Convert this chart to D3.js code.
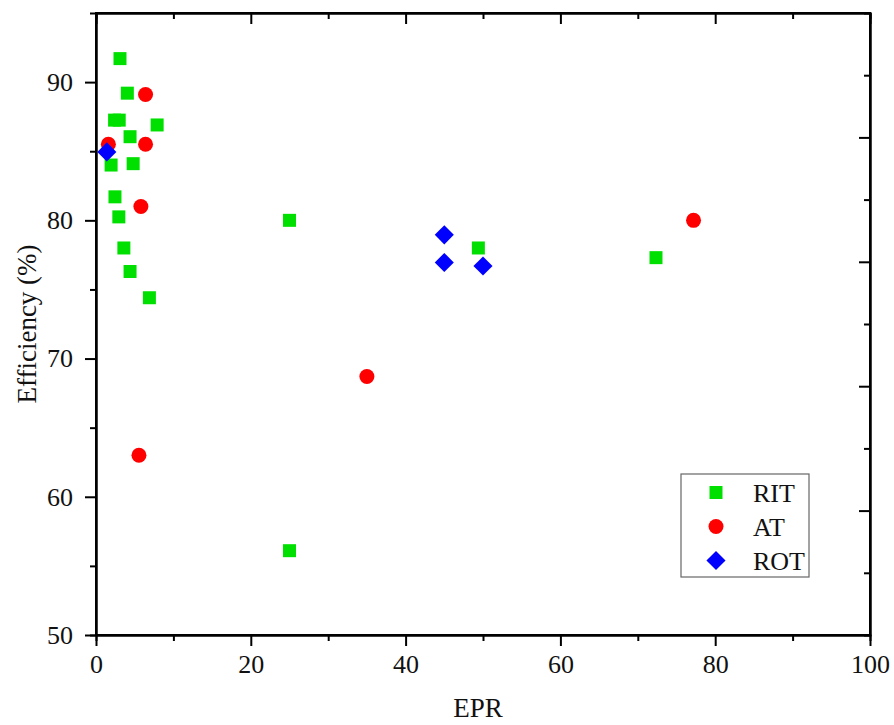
<!DOCTYPE html>
<html>
<head>
<meta charset="utf-8">
<script src="https://cdn.jsdelivr.net/npm/d3@7"></script>
<style>
  body { margin: 0; background: #fff; }
  svg text { font-family: "Liberation Serif", "Times New Roman", Times, serif !important; }
</style>
</head>
<body>
<svg id="chart" width="894" height="725"></svg>
<script>
// RIT series (EPR, Efficiency)
const ritX = [3.1, 4.05, 2.4, 3.0, 7.9, 4.4, 4.8, 1.95, 2.45, 2.95, 3.6, 4.4, 6.9, 25, 25, 49.4, 72.35];
const ritY = [91.7, 89.2, 87.25, 87.25, 86.9, 86.05, 84.1, 84.0, 81.7, 80.25, 78.0, 76.3, 74.4, 80.0, 56.1, 78.0, 77.3];
// AT series
const atX = [1.6, 6.4, 6.4, 5.8, 5.55, 35.0, 77.2];
const atY = [85.5, 89.1, 85.5, 81.0, 63.0, 68.7, 80.0];
// ROT series
const rotX = [1.4, 45.0, 45.0, 50.0];
const rotY = [84.95, 78.95, 76.95, 76.7];

const seriesNames = ["RIT", "AT", "ROT"];
const xTicks = [0, 20, 40, 60, 80, 100];
const yTicks = [50, 60, 70, 80, 90];

const svg = d3.select("#chart");
const margin = { top: 13, right: 24, bottom: 90, left: 96 };
const width = 894, height = 725;
const w = width - margin.left - margin.right;
const h = height - margin.top - margin.bottom;

const x = d3.scaleLinear().domain([0, 100]).range([0, w]);
const y = d3.scaleLinear().domain([50, 95]).range([h, 0]);
const yRight = d3.scaleLinear().domain([0, 50]).range([h, 0]); // opposite axis has its own scale

const g = svg.append("g").attr("transform", `translate(${margin.left},${margin.top})`);

const fontSize = 26;

function styleAxis(sel) {
  sel.attr("font-family", null);
  sel.selectAll("path").attr("stroke", "#000").attr("stroke-width", 2);
  sel.selectAll("line").attr("stroke", "#000").attr("stroke-width", 2);
  sel.selectAll("text").attr("font-size", fontSize).attr("fill", "#111");
}

// minor ticks first
const xMinor = d3.range(10, 100, 20);
const yMinor = d3.range(55, 95, 10);
const yRMinor = d3.range(5, 50, 10);

g.append("g").attr("transform", `translate(0,${h})`)
  .call(d3.axisBottom(x).tickValues(xMinor).tickSize(6).tickFormat("")).call(styleAxis);
g.append("g")
  .call(d3.axisTop(x).tickValues(xMinor).tickSize(-6).tickFormat("")).call(styleAxis);
g.append("g")
  .call(d3.axisLeft(y).tickValues(yMinor).tickSize(6).tickFormat("")).call(styleAxis);
g.append("g").attr("transform", `translate(${w},0)`)
  .call(d3.axisRight(yRight).tickValues(yRMinor).tickSize(-6).tickFormat("")).call(styleAxis);

// major ticks
g.append("g").attr("transform", `translate(0,${h})`)
  .call(d3.axisBottom(x).tickValues(xTicks).tickSize(11).tickSizeOuter(0).tickPadding(9))
  .call(styleAxis);
g.append("g")
  .call(d3.axisTop(x).tickValues(xTicks).tickSize(-11).tickSizeOuter(0).tickFormat(""))
  .call(styleAxis);
g.append("g")
  .call(d3.axisLeft(y).tickValues(yTicks).tickSize(11).tickSizeOuter(0).tickPadding(12))
  .call(styleAxis);
g.append("g").attr("transform", `translate(${w},0)`)
  .call(d3.axisRight(yRight).tickValues([10, 20, 30, 40]).tickSize(-11).tickSizeOuter(0).tickFormat(""))
  .call(styleAxis);

// frame
g.append("rect").attr("width", w).attr("height", h)
  .attr("fill", "none").attr("stroke", "#000").attr("stroke-width", 2);

// markers
const rit = ritX.map((v, i) => ({ x: v, y: ritY[i] }));
const at = atX.map((v, i) => ({ x: v, y: atY[i] }));
const rot = rotX.map((v, i) => ({ x: v, y: rotY[i] }));

const sq = d3.symbol().type(d3.symbolSquare).size(13 * 13);
const circ = d3.symbol().type(d3.symbolCircle).size(Math.PI * 7.5 * 7.5);
const dia = d3.symbol().type(d3.symbolSquare).size(13.5 * 13.5);

g.selectAll(".rit").data(rit).enter().append("path")
  .attr("d", sq).attr("fill", "#00e000")
  .attr("transform", d => `translate(${x(d.x)},${y(d.y)})`);
g.selectAll(".at").data(at).enter().append("path")
  .attr("d", circ).attr("fill", "#ff0000")
  .attr("transform", d => `translate(${x(d.x)},${y(d.y)})`);
g.selectAll(".rot").data(rot).enter().append("path")
  .attr("d", dia).attr("fill", "#0000ff")
  .attr("transform", d => `translate(${x(d.x)},${y(d.y)}) rotate(45)`);

// axis titles
svg.append("text")
  .attr("x", margin.left + w / 2 - 5).attr("y", 717)
  .attr("text-anchor", "middle").attr("font-size", 27).attr("fill", "#111").text("EPR");
svg.append("text")
  .attr("transform", `translate(36,${margin.top + h / 2}) rotate(-90)`)
  .attr("text-anchor", "middle").attr("font-size", 27).attr("fill", "#111").text("Efficiency (%)");

// legend
const lg = svg.append("g").attr("transform", "translate(681,474)");
lg.append("rect").attr("width", 128).attr("height", 103)
  .attr("fill", "#fff").attr("stroke", "#666").attr("stroke-width", 1.2);
const legShapes = [
  { d: sq, fill: "#00e000", rot: 0 },
  { d: circ, fill: "#ff0000", rot: 0 },
  { d: dia, fill: "#0000ff", rot: 45 }
];
seriesNames.forEach((name, i) => {
  const cy = 18.5 + i * 34;
  lg.append("path").attr("d", legShapes[i].d).attr("fill", legShapes[i].fill)
    .attr("transform", `translate(35,${cy}) rotate(${legShapes[i].rot})`);
  lg.append("text").attr("x", 72).attr("y", cy + 9)
    .attr("font-size", fontSize).attr("fill", "#111").text(name);
});
</script>
</body>
</html>
